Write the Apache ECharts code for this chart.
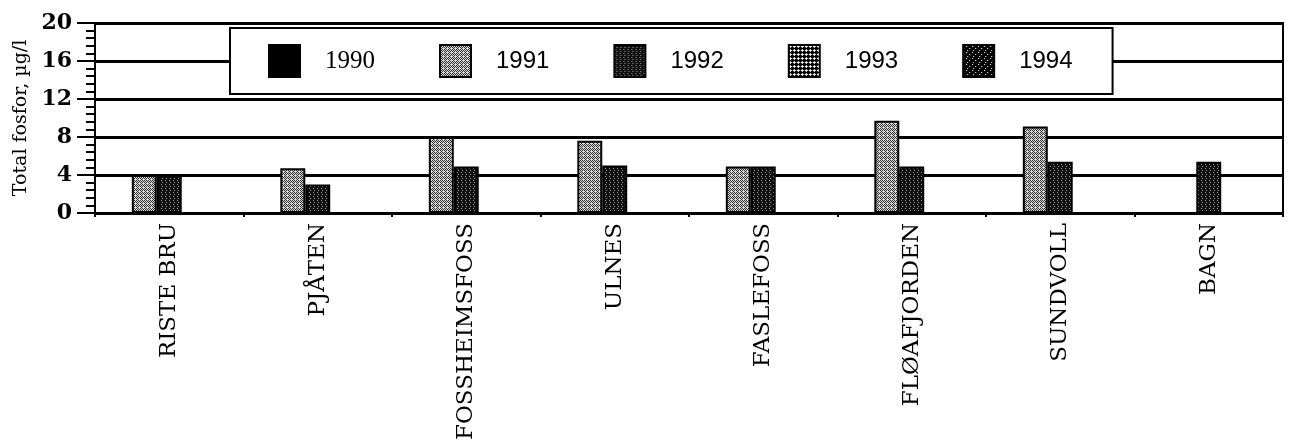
<!DOCTYPE html>
<html>
<head>
<meta charset="utf-8">
<script src="https://cdn.jsdelivr.net/npm/echarts@6/dist/echarts.min.js"></script>
<style>
  html, body { margin: 0; padding: 0; background: #fff; }
  #chart { width: 1289px; height: 443px; }
</style>
</head>
<body>
<div id="chart"></div>
<script>
// stations along the x axis
const categories = ['RISTE BRU', 'PJÅTEN', 'FOSSHEIMSFOSS', 'ULNES', 'FASLEFOSS', 'FLØAFJORDEN', 'SUNDVOLL', 'BAGN']
const years = ['1990', '1991', '1992', '1993', '1994']

// total phosphorus, µg/l (null = no sample that year)
const v1990 = [null, null, null, null, null, null, null, null]
const v1991 = [4.0, 4.7, 8.0, 7.6, 4.9, 9.7, 9.1, null]
const v1992 = [4.0, 3.0, 4.9, 5.0, 4.9, 4.9, 5.4, 5.4]
const v1993 = [null, null, null, null, null, null, null, null]
const v1994 = [null, null, null, null, null, null, null, null]

const yTicks = { min: 0, max: 20, interval: 4 }

// small bitmap tiles to imitate the print hatching ('#' = ink, '.' = paper)
const tile = (rows, ink, paper) => {
  const c = document.createElement('canvas')
  c.width = rows[0].length
  c.height = rows.length
  const ctx = c.getContext('2d')
  rows.forEach((row, y) => {
    for (let x = 0; x < row.length; x++) {
      ctx.fillStyle = row[x] === '#' ? ink : paper
      ctx.fillRect(x, y, 1, 1)
    }
  })
  return { image: c, repeat: 'repeat' }
}

const fills = {
  '1990': '#000',
  '1991': tile(['#.#.', '.#.#', '#.#.', '.#..'], '#333', '#d8d8d8'),
  '1992': tile(['#.##', '####', '##.#', '####'], '#111', '#9a9a9a'),
  '1993': tile(['#.##', '...#', '#.##', '####'], '#000', '#f4f4f4'),
  '1994': tile(['######', '###.##', '######', '.#####', '######', '####.#'], '#000', '#fff'),
}

const seriesValues = [v1990, v1991, v1992, v1993, v1994]

const serif = 'DejaVu Serif'

const chart = echarts.init(document.getElementById('chart'), null, { renderer: 'canvas' })

chart.setOption({
  animation: false,
  backgroundColor: '#fff',
  grid: {
    left: 95, right: 6, top: 23, bottom: 230,
    show: true, borderColor: '#000', borderWidth: 2,
  },
  legend: {
    left: 230, top: 28,
    padding: [16, 40, 16, 38],
    backgroundColor: '#fff',
    borderColor: '#000', borderWidth: 2,
    itemWidth: 31, itemHeight: 32, itemGap: 64,
    icon: 'rect',
    formatter: (name) => (name === '1990' ? '{serif|' + name + '}' : '{sans|' + name + '}'),
    textStyle: {
      fontSize: 24,
      color: '#000',
      rich: {
        serif: { fontFamily: 'Liberation Serif', fontSize: 25, color: '#000', padding: [0, 0, 0, 20] },
        sans: { fontFamily: 'Liberation Sans', fontSize: 24, color: '#000', padding: [0, 0, 0, 20] },
      },
    },
  },
  xAxis: {
    type: 'category',
    data: categories,
    axisLine: { lineStyle: { color: '#000', width: 2 } },
    axisTick: { show: true, length: 4, lineStyle: { color: '#000', width: 2 } },
    axisLabel: {
      rotate: 90, margin: 10, interval: 0,
      fontFamily: serif, fontSize: 23, color: '#000',
    },
  },
  yAxis: {
    type: 'value',
    ...yTicks,
    name: 'Total fosfor, µg/l',
    nameLocation: 'middle',
    nameGap: 56,
    nameTextStyle: { fontFamily: serif, fontSize: 19, color: '#000' },
    axisLine: { show: true, lineStyle: { color: '#000', width: 2 } },
    axisTick: { show: true, length: 18, lineStyle: { color: '#000', width: 2 } },
    minorTick: { show: true, splitNumber: 5, length: 9, lineStyle: { color: '#000', width: 2 } },
    axisLabel: { margin: 23, fontFamily: serif, fontSize: 22, fontWeight: 'bold', color: '#000' },
    splitLine: { show: true, lineStyle: { color: '#000', width: 3 } },
  },
  series: years.map((y, i) => ({
    name: y,
    type: 'bar',
    data: seriesValues[i],
    barGap: '0%',
    barCategoryGap: '16%',
    itemStyle: { color: fills[y], borderColor: '#000', borderWidth: 2 },
    emphasis: { disabled: true },
  })),
})
</script>
</body>
</html>
